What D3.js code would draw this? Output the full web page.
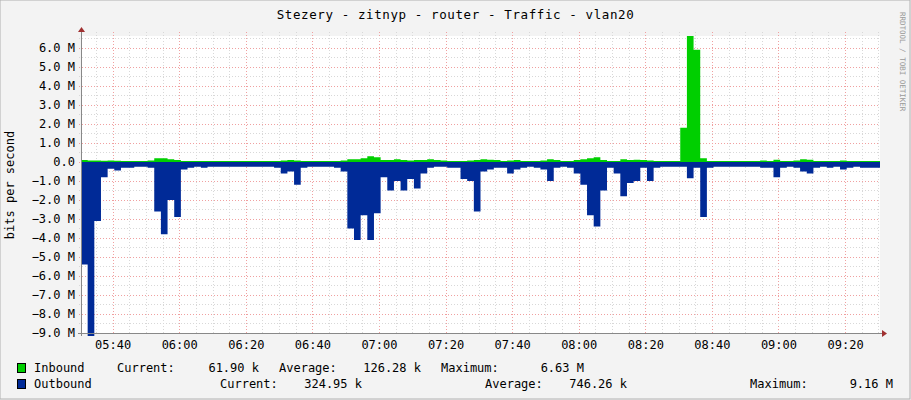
<!DOCTYPE html>
<html><head><meta charset="utf-8">
<script src="https://cdn.jsdelivr.net/npm/d3@7"></script>
<style>body{margin:0;background:#f3f3f3}text{font-family:"DejaVu Sans Mono",monospace}</style>
</head><body><div class="chart"></div>
<script>
// samples every 2 minutes starting 05:30, values in Mbit/s
const startMin = 5*60+30.5
const inbound = [0.1,0.08,0.08,0.06,0.08,0.06,0.05,0.05,0.05,0.05,0.08,0.2,0.2,0.15,0.1,0.05,0.05,0.05,0.05,0.05,
  0.05,0.05,0.05,0.05,0.05,0.05,0.05,0.05,0.05,0.05,0.08,0.1,0.08,0.05,0.05,0.05,0.05,0.05,0.05,0.08,
  0.15,0.15,0.2,0.3,0.25,0.1,0.1,0.15,0.1,0.08,0.1,0.1,0.15,0.1,0.08,0.05,0.05,0.05,0.08,0.1,
  0.15,0.12,0.1,0.05,0.08,0.1,0.05,0.05,0.05,0.08,0.15,0.1,0.05,0.05,0.1,0.15,0.2,0.25,0.1,0.05,
  0.05,0.15,0.1,0.12,0.1,0.08,0.05,0.05,0.05,0.05,1.8,6.63,5.9,0.2,0.05,0.05,0.05,0.05,0.05,0.05,
  0.05,0.05,0.08,0.05,0.12,0.05,0.05,0.08,0.15,0.12,0.05,0.05,0.05,0.05,0.08,0.05,0.05,0.05,0.05,0.05]
const outbound = [-5.4,-9.16,-3.1,-0.8,-0.35,-0.45,-0.3,-0.3,-0.25,-0.25,-0.3,-2.6,-3.8,-2.0,-2.9,-0.4,-0.3,-0.25,-0.3,-0.25,
  -0.25,-0.25,-0.25,-0.25,-0.25,-0.25,-0.25,-0.25,-0.25,-0.3,-0.6,-0.5,-1.2,-0.3,-0.25,-0.25,-0.25,-0.25,-0.3,-0.5,
  -3.5,-4.1,-2.8,-4.1,-2.7,-0.8,-1.5,-1.0,-1.5,-0.9,-1.4,-0.6,-0.3,-0.25,-0.25,-0.3,-0.3,-0.9,-1.0,-2.6,
  -0.5,-0.4,-0.3,-0.3,-0.6,-0.4,-0.3,-0.25,-0.3,-0.4,-1.0,-0.3,-0.25,-0.3,-0.6,-1.2,-2.8,-3.4,-1.5,-0.3,
  -0.6,-1.8,-1.1,-1.0,-0.3,-1.0,-0.3,-0.25,-0.25,-0.25,-0.25,-0.85,-0.3,-2.9,-0.3,-0.25,-0.25,-0.25,-0.25,-0.25,
  -0.25,-0.25,-0.3,-0.3,-0.8,-0.3,-0.25,-0.3,-0.5,-0.6,-0.3,-0.25,-0.3,-0.25,-0.4,-0.3,-0.25,-0.3,-0.3,-0.3]
const yTicks = [6,5,4,3,2,1,0,-1,-2,-3,-4,-5,-6,-7,-8,-9]
const xTickLabels = ["05:40","06:00","06:20","06:40","07:00","07:20","07:40","08:00","08:20","08:40","09:00","09:20"]
const legendRows = [
  {name:"Inbound", color:"#00cf00", cur:"61.90 k", avg:"126.28 k", max:"6.63 M", cols:[117,259,279,421,441,584]},
  {name:"Outbound", color:"#002a97", cur:"324.95 k", avg:"746.26 k", max:"9.16 M", cols:[220,362,485,627,750,893]}
]

const W = 911, H = 400
const pl = 81, pr = 880, pt = 36, pb = 333
const svg = d3.select('.chart').append('svg').attr("width", W).attr("height", H)
svg.append("rect").attr("width", W).attr("height", H).attr("fill", "#f3f3f3")
svg.append("rect").attr("x", 0).attr("y", 0).attr("width", W-1).attr("height", H-1)
  .attr("fill", "none").attr("stroke", "#b0b0b0").attr("stroke-width", 1)

const xScale = d3.scaleLinear().domain([startMin, startMin+240]).range([pl, pr])
const yScale = d3.scaleLinear().domain([-9, 6.63]).range([pb, pt])

svg.append("rect").attr("x", pl).attr("y", pt).attr("width", pr-pl).attr("height", pb-pt).attr("fill", "#fff")

// grid
const g = svg.append("g")
for (let m = 5*60+35; m < startMin+240; m += 5) {
  const major = (m % 20) === 0
  g.append("line").attr("x1", Math.round(xScale(m))+.5).attr("x2", Math.round(xScale(m))+.5)
    .attr("y1", pt-4).attr("y2", pb)
    .attr("stroke", major ? "#f0a0a0" : "#d8d8d8").attr("stroke-dasharray", "1,2")
}
for (let v = -9; v <= 6.5; v += 0.5) {
  const major = Number.isInteger(v)
  g.append("line").attr("x1", pl-2).attr("x2", pr)
    .attr("y1", Math.round(yScale(v))+.5).attr("y2", Math.round(yScale(v))+.5)
    .attr("stroke", major ? "#f0a0a0" : "#d8d8d8").attr("stroke-dasharray", "1,2")
}

const pts = arr => {
  const out = []
  arr.forEach((v, i) => out.push([startMin+2*i, v]))
  out.push([startMin+240, arr[arr.length-1]])
  return out
}
const area = d3.area().curve(d3.curveStepAfter).x(d => xScale(d[0])).y0(yScale(0)).y1(d => yScale(d[1]))
svg.append("path").datum(pts(inbound)).attr("fill", "#00cf00").attr("d", area)
svg.append("path").datum(pts(outbound)).attr("fill", "#002a97").attr("d", area)

// axes
svg.append("line").attr("x1", pl-3).attr("x2", pr+2).attr("y1", pb+.5).attr("y2", pb+.5).attr("stroke", "#888")
svg.append("line").attr("x1", pl+.5).attr("x2", pl+.5).attr("y1", pb+3).attr("y2", pt-4).attr("stroke", "#888")
svg.append("path").attr("d", `M${pr+2},${pb-3}L${pr+7},${pb+.5}L${pr+2},${pb+4}Z`).attr("fill", "#a03030")
svg.append("path").attr("d", `M${pl-3},${pt-4}L${pl+.5},${pt-9}L${pl+4},${pt-4}Z`).attr("fill", "#a03030")

const yAxis = d3.axisLeft(yScale).tickValues(yTicks).tickSize(0).tickPadding(6)
  .tickFormat(v => v === 0 ? "0.0" : d3.format(".1f")(v) + " M")
svg.append("g").attr("transform", `translate(${pl},0)`).call(yAxis)
  .call(a => a.select(".domain").remove())
  .selectAll("text").attr("font-size", 12).attr("fill", "#000")

const xTickVals = xTickLabels.map(s => +s.slice(0,2)*60 + +s.slice(3))
const xAxis = d3.axisBottom(xScale).tickValues(xTickVals).tickSize(0).tickPadding(7)
  .tickFormat((d, i) => xTickLabels[i])
svg.append("g").attr("transform", `translate(0,${pb})`).call(xAxis)
  .call(a => a.select(".domain").remove())
  .selectAll("text").attr("font-size", 12).attr("fill", "#000")

svg.append("text").attr("x", W/2).attr("y", 19).attr("text-anchor", "middle").attr("font-size", 12.5)
  .attr("letter-spacing", 0.6).text("Stezery - zitnyp - router - Traffic - vlan20")
svg.append("text").attr("transform", "translate(14,185) rotate(-90)").attr("text-anchor", "middle")
  .attr("font-size", 12).text("bits per second")
svg.append("text").attr("transform", "translate(900,12) rotate(90)").attr("font-size", 7.5)
  .attr("fill", "#999").text("RRDTOOL / TOBI OETIKER")

// legend
legendRows.forEach((r, i) => {
  const y = 372 + i*16
  svg.append("rect").attr("x", 17.5).attr("y", y-8.5).attr("width", 8).attr("height", 9)
    .attr("fill", r.color).attr("stroke", "#000").attr("stroke-width", 1)
  svg.append("text").attr("x", 34).attr("y", y).attr("font-size", 12).text(r.name)
  const c = r.cols
  const items = [["Current:",c[0],"start"],[r.cur,c[1],"end"],["Average:",c[2],"start"],[r.avg,c[3],"end"],["Maximum:",c[4],"start"],[r.max,c[5],"end"]]
  items.forEach(t => svg.append("text").attr("x", t[1]).attr("y", y).attr("font-size", 12)
    .attr("text-anchor", t[2]).text(t[0]))
})
</script></body></html>
